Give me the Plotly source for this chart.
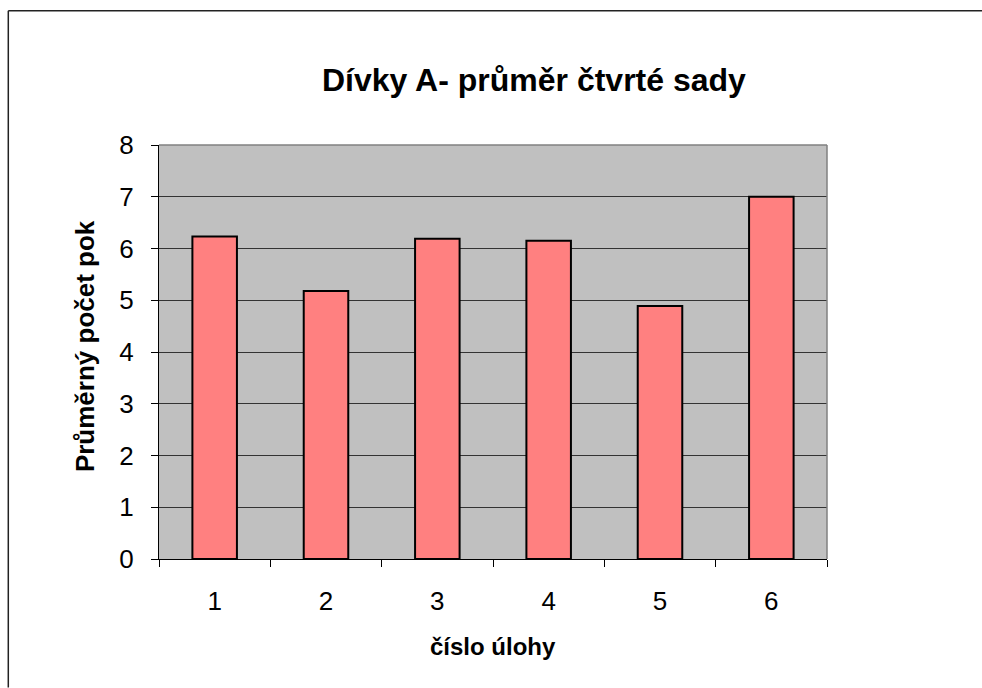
import plotly.graph_objects as go

# Average points per task, girls group A, fourth set
tasks = ["1", "2", "3", "4", "5", "6"]
averages = [6.23, 5.18, 6.19, 6.15, 4.89, 7.0]

title_text = "Dívky A- průměr čtvrté sady"
x_title = "číslo úlohy"
y_title = "Průměrný počet pok"

W, H = 982, 688
L, R, T, B = 158.7, 826.7, 145.0, 559.4
pw, ph = R - L, B - T


def px(x):
    return (x - L) / pw


def py(y):
    return (B - y) / ph


font = "Liberation Sans, Arial, sans-serif"

fig = go.Figure(
    go.Bar(
        x=tasks,
        y=averages,
        marker=dict(color="#FF8080", line=dict(color="#000000", width=2)),
        width=0.4,
        hoverinfo="x+y",
    )
)

fig.update_layout(
    width=W,
    height=H,
    margin=dict(l=L, r=W - R, t=T, b=H - B, pad=0),
    paper_bgcolor="#FFFFFF",
    plot_bgcolor="#C0C0C0",
    showlegend=False,
    font=dict(family=font, color="#000000"),
    xaxis=dict(
        type="category",
        tickson="boundaries",
        ticks="outside",
        ticklen=7,
        tickcolor="#000000",
        showline=True,
        linecolor="#000000",
        linewidth=1,
        showgrid=False,
        tickfont=dict(size=26, family=font),
        ticklabelstandoff=19,
        range=[-0.5, 5.5],
    ),
    yaxis=dict(
        range=[0, 8],
        dtick=1,
        ticks="outside",
        ticklen=7,
        tickcolor="#000000",
        showline=True,
        linecolor="#000000",
        linewidth=1,
        showgrid=True,
        gridcolor="#333333",
        gridwidth=1.3,
        zeroline=False,
        tickfont=dict(size=26, family=font),
        ticklabelstandoff=12,
    ),
    shapes=[
        # gray border on top and right of plot area
        dict(type="line", xref="paper", yref="paper", x0=0, x1=1, y0=1, y1=1,
             line=dict(color="#808080", width=1.5)),
        dict(type="line", xref="paper", yref="paper", x0=1, x1=1, y0=0, y1=1,
             line=dict(color="#808080", width=1.5)),
        # chart frame: top and left edges
        dict(type="line", xref="paper", yref="paper",
             x0=px(8), x1=px(982), y0=py(10.5), y1=py(10.5),
             line=dict(color="#222222", width=1.5)),
        dict(type="line", xref="paper", yref="paper",
             x0=px(8), x1=px(8), y0=py(10.5), y1=py(688),
             line=dict(color="#222222", width=1.5)),
    ],
    annotations=[
        dict(text="<b>" + title_text + "</b>", xref="paper", yref="paper",
             x=px(534), y=py(80), showarrow=False,
             font=dict(size=32, family=font), xanchor="center", yanchor="middle"),
        dict(text="<b>" + x_title + "</b>", xref="paper", yref="paper",
             x=px(493), y=py(647), showarrow=False,
             font=dict(size=24, family=font), xanchor="center", yanchor="middle"),
        dict(text="<b>" + y_title + "</b>", xref="paper", yref="paper",
             x=px(85), y=py(346), showarrow=False, textangle=-90,
             font=dict(size=26, family=font), xanchor="center", yanchor="middle"),
    ],
)

fig.write_html("out.html")
